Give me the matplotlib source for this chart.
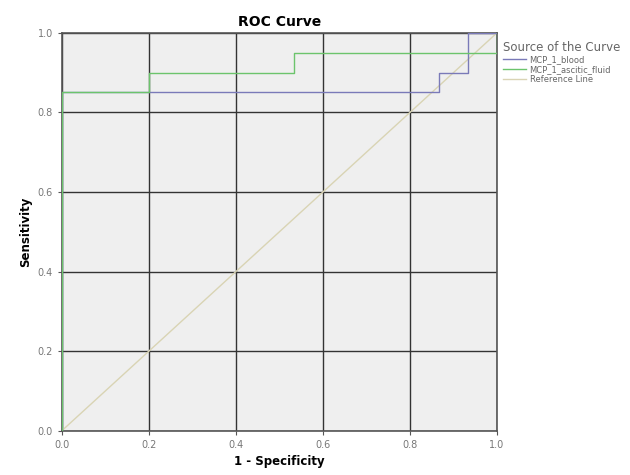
import matplotlib
matplotlib.use("Agg")
import matplotlib.pyplot as plt

# ROC points (15 negatives, 20 positives)
fpr_blood = [0.0, 0.0, 0.867, 0.867, 0.933, 0.933, 1.0]
tpr_blood = [0.0, 0.85, 0.85, 0.90, 0.90, 1.0, 1.0]
fpr_ascitic = [0.0, 0.0, 0.2, 0.2, 0.533, 0.533, 1.0, 1.0]
tpr_ascitic = [0.0, 0.85, 0.85, 0.90, 0.90, 0.95, 0.95, 1.0]
ref_line = [0.0, 1.0]
ticks = [0.0, 0.2, 0.4, 0.6, 0.8, 1.0]
series_names = ["MCP_1_blood", "MCP_1_ascitic_fluid", "Reference Line"]

fig = plt.figure(figsize=(6.3, 4.75), dpi=100)
ax = fig.add_axes([0.098, 0.093, 0.691, 0.838])
ax.set_facecolor("#efefef")

ax.plot(ref_line, ref_line, color="#d9d4b4", lw=1.0, label=series_names[2], zorder=2)
ax.plot(fpr_blood, tpr_blood, color="#7a7ab8", lw=1.0, label=series_names[0], zorder=3)
ax.plot(fpr_ascitic, tpr_ascitic, color="#6cc46c", lw=1.0, label=series_names[1], zorder=3)

ax.set_xlim(0, 1)
ax.set_ylim(0, 1)
ax.set_xticks(ticks)
ax.set_yticks(ticks)
ax.set_xticklabels([f"{t:.1f}" for t in ticks])
ax.set_yticklabels([f"{t:.1f}" for t in ticks])
ax.grid(True, color="#333333", lw=1.0)
ax.set_axisbelow(True)
ax.tick_params(labelsize=7, labelcolor="#777777", length=3, color="#555555")
for s in ax.spines.values():
    s.set_color("#555555")
    s.set_linewidth(1.2)

ax.set_title("ROC Curve", fontsize=10, fontweight="bold", pad=5)
ax.set_xlabel("1 - Specificity", fontsize=8.5, fontweight="bold")
ax.set_ylabel("Sensitivity", fontsize=8.5, fontweight="bold")

h, l = ax.get_legend_handles_labels()
order = [1, 2, 0]
leg = ax.legend([h[i] for i in order], [l[i] for i in order],
                title="Source of the Curve", loc="upper left",
                bbox_to_anchor=(1.0, 0.995), frameon=False, fontsize=6,
                title_fontsize=8.5, handlelength=2.8, labelspacing=0.15,
                borderaxespad=0.3, handletextpad=0.4)
leg._legend_box.align = "left"
leg.get_title().set_color("#666666")
for t in leg.get_texts():
    t.set_color("#666666")

fig.savefig("out.png", dpi=100)
